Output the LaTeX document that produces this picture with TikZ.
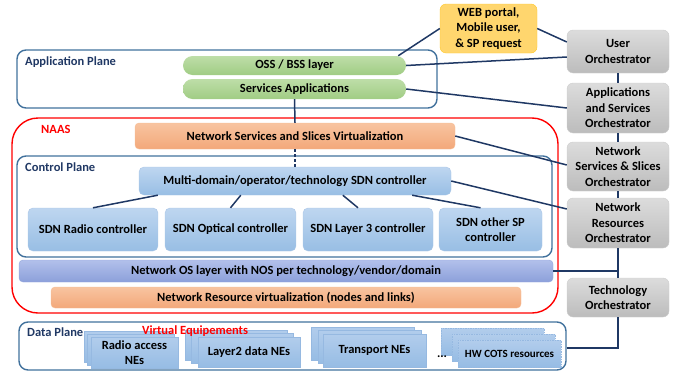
\documentclass[tikz,border=0pt]{standalone}
\usepackage{fontspec}
\setmainfont{Carlito}
\definecolor{navy}{HTML}{1F3864}
\definecolor{planeb}{HTML}{41719C}
\definecolor{planet}{HTML}{203864}
\begin{document}
\begin{tikzpicture}[x=1pt,y=-1pt,
  base/.style={font=\bfseries\fontsize{12.5}{15.5}\selectfont, align=center, inner sep=1pt},
  plane/.style={draw=planeb, line width=1.4pt, rounded corners=9pt},
  greenbox/.style={base, draw=none, top color={rgb,255:red,190;green,222;blue,168}, bottom color={rgb,255:red,160;green,204;blue,132}, rounded corners=9.5pt},
  orangebox/.style={base, draw={rgb,255:red,246;green,190;blue,150}, top color={rgb,255:red,248;green,196;blue,160}, bottom color={rgb,255:red,243;green,168;blue,122}, rounded corners=4pt},
  sdnbox/.style={base, draw={rgb,255:red,170;green,198;blue,230}, top color={rgb,255:red,190;green,214;blue,240}, bottom color={rgb,255:red,152;green,190;blue,228}, rounded corners=5pt},
  nosbox/.style={base, draw={rgb,255:red,150;green,168;blue,220}, top color={rgb,255:red,178;green,192;blue,235}, bottom color={rgb,255:red,140;green,160;blue,218}, rounded corners=4pt},
  orch/.style={base, draw={rgb,255:red,205;green,205;blue,205}, top color={rgb,255:red,220;green,220;blue,220}, bottom color={rgb,255:red,188;green,188;blue,188}, rounded corners=6pt},
  webbox/.style={base, draw={rgb,255:red,255;green,200;blue,40}, fill={rgb,255:red,255;green,214;blue,110}, rounded corners=6pt},
  nebox/.style={base, draw={rgb,255:red,150;green,185;blue,225}, top color={rgb,255:red,178;green,205;blue,236}, bottom color={rgb,255:red,150;green,188;blue,228}},
  nedash/.style={nebox, dashed, dash pattern=on 1.5pt off 1pt},
  link/.style={draw=navy, line width=1.5pt},
  planelabel/.style={font=\bfseries\fontsize{12.5}{14}\selectfont, text=planet, anchor=west, inner sep=0pt},
  redlabel/.style={font=\bfseries\fontsize{12.5}{14}\selectfont, text=red, anchor=west, inner sep=0pt}
]
\useasboundingbox (0,0) rectangle (676,372);

% planes
\node[plane, minimum width=420pt, minimum height=58pt] (app) at (227,79) {};
\node[planelabel] (applab) at (25,62) {Application Plane};
\node[draw=red, line width=1.4pt, rounded corners=26pt, minimum width=546pt, minimum height=195pt] (naas) at (285,215.5) {};
\node[redlabel] (naaslab) at (41,129) {NAAS};
\node[plane, minimum width=535pt, minimum height=101pt] (cp) at (284.5,206.5) {};
\node[planelabel] (cplab) at (25,167) {Control Plane};
\node[plane, minimum width=547pt, minimum height=48pt] (dp) at (292.5,346) {};
\node[planelabel] (dplab) at (27,332) {Data Plane};

% application plane boxes
\node[greenbox, minimum width=223pt, minimum height=19pt] (oss) at (294.5,65.5) {OSS / BSS layer};
\node[greenbox, minimum width=223pt, minimum height=20pt] (sapp) at (294.5,89) {Services Applications};
\node[webbox, minimum width=97pt, minimum height=49pt] (web) at (488.5,28.5) {WEB portal,\\Mobile user,\\\& SP request};

% NAAS
\node[orangebox, minimum width=320pt, minimum height=26pt] (nsv) at (295,136) {Network Services and Slices Virtualization};
\node[sdnbox, minimum width=312pt, minimum height=28pt] (multi) at (295,181) {Multi-domain/operator/technology SDN controller};
\node[sdnbox, minimum width=130pt, minimum height=43pt] (radio) at (93,229.5) {SDN Radio controller};
\node[sdnbox, minimum width=131pt, minimum height=43pt] (optical) at (230.5,229.5) {SDN Optical controller};
\node[sdnbox, minimum width=130pt, minimum height=43pt] (lthree) at (368,229.5) {SDN Layer 3 controller};
\node[sdnbox, minimum width=103pt, minimum height=43pt] (other) at (490.5,229.5) {SDN other SP\\controller};
\node[nosbox, minimum width=534pt, minimum height=22pt] (nos) at (286,271) {Network OS layer with NOS per technology/vendor/domain};
\node[orangebox, minimum width=470pt, minimum height=21pt] (nrv) at (286,297.5) {Network Resource virtualization (nodes and links)};

% orchestrators
\node[orch, minimum width=102pt, minimum height=43pt] (user) at (618,51.5) {User\\Orchestrator};
\node[orch, minimum width=102pt, minimum height=50pt] (apps) at (618,108) {Applications\\and Services\\Orchestrator};
\node[orch, minimum width=102pt, minimum height=49pt] (nss) at (618,166.5) {Network\\Services \& Slices\\Orchestrator};
\node[orch, minimum width=102pt, minimum height=50pt] (nro) at (618,223) {Network\\Resources\\Orchestrator};
\node[orch, minimum width=102pt, minimum height=39pt] (tech) at (618,297.5) {Technology\\Orchestrator};

% data plane elements
\node[nebox, minimum width=87pt, minimum height=31pt] (ra1) at (127.5,346.5) {};
\node[nebox, minimum width=87pt, minimum height=31pt] (ra2) at (131,349.5) {};
\node[nebox, minimum width=87pt, minimum height=31pt] (ra) at (134.5,352.5) {Radio access\\NEs};
\node[nebox, minimum width=102pt, minimum height=30pt] (l21) at (236,345) {};
\node[nebox, minimum width=102pt, minimum height=30pt] (l22) at (242,348) {};
\node[nebox, minimum width=102pt, minimum height=30pt] (l2) at (249,352) {Layer2 data NEs};
\node[nebox, minimum width=103pt, minimum height=33pt] (tr1) at (362.5,343.5) {};
\node[nebox, minimum width=103pt, minimum height=33pt] (tr2) at (369.5,346.5) {};
\node[nebox, minimum width=103pt, minimum height=33pt] (tr) at (374.5,350.5) {Transport NEs};
\node[nedash, minimum width=103pt, minimum height=27pt] (hw1) at (492.5,341.5) {};
\node[nedash, minimum width=103pt, minimum height=27pt] (hw2) at (503.5,347.5) {};
\node[nedash, minimum width=103pt, minimum height=27pt, font=\bfseries\fontsize{11}{13}\selectfont] (hw) at (509.5,353.5) {HW COTS resources};
\node[redlabel] (velab) at (142,331) {Virtual Equipements};
\node[base, inner sep=0pt] (dots) at (442,357) {...};

% connectors
\draw[link] ([xshift=-8pt]oss.north east) -- (web.west);
\draw[link] (web.east) -- ([yshift=9.5pt]user.west);
\draw[link] (oss.east) -- ([yshift=-5.5pt]user.west);
\draw[link] (sapp.east) -- (apps.west);
\draw[link] (nsv.east) -- ([yshift=1.5pt]nss.west);
\draw[link] (multi.east) -- ([yshift=14pt]nro.west);
\draw[link] (sapp.south) -- (nsv.north);
\draw[link, dashed, dash pattern=on 3pt off 2pt] (nsv.south) -- (multi.north);
\draw[link] ([xshift=19pt]multi.south west) -- (radio.north);
\draw[link] ([xshift=102pt]multi.south west) -- (optical.north);
\draw[link] ([xshift=204pt]multi.south west) -- ([xshift=-10pt]lthree.north);
\draw[link] ([xshift=-39pt]multi.south east) -- ([xshift=-10pt]other.north);
\draw[link] (user.south) -- (apps.north);
\draw[link] (apps.south) -- (nss.north);
\draw[link] (nss.south) -- (nro.north);
\draw[link] (nro.south) -- (tech.north);
\draw[link] (nos.east) -- (nos.east -| tech.north);
\draw[link] ([yshift=-2pt]dp.east) -| (tech.south);
\end{tikzpicture}
\end{document}
